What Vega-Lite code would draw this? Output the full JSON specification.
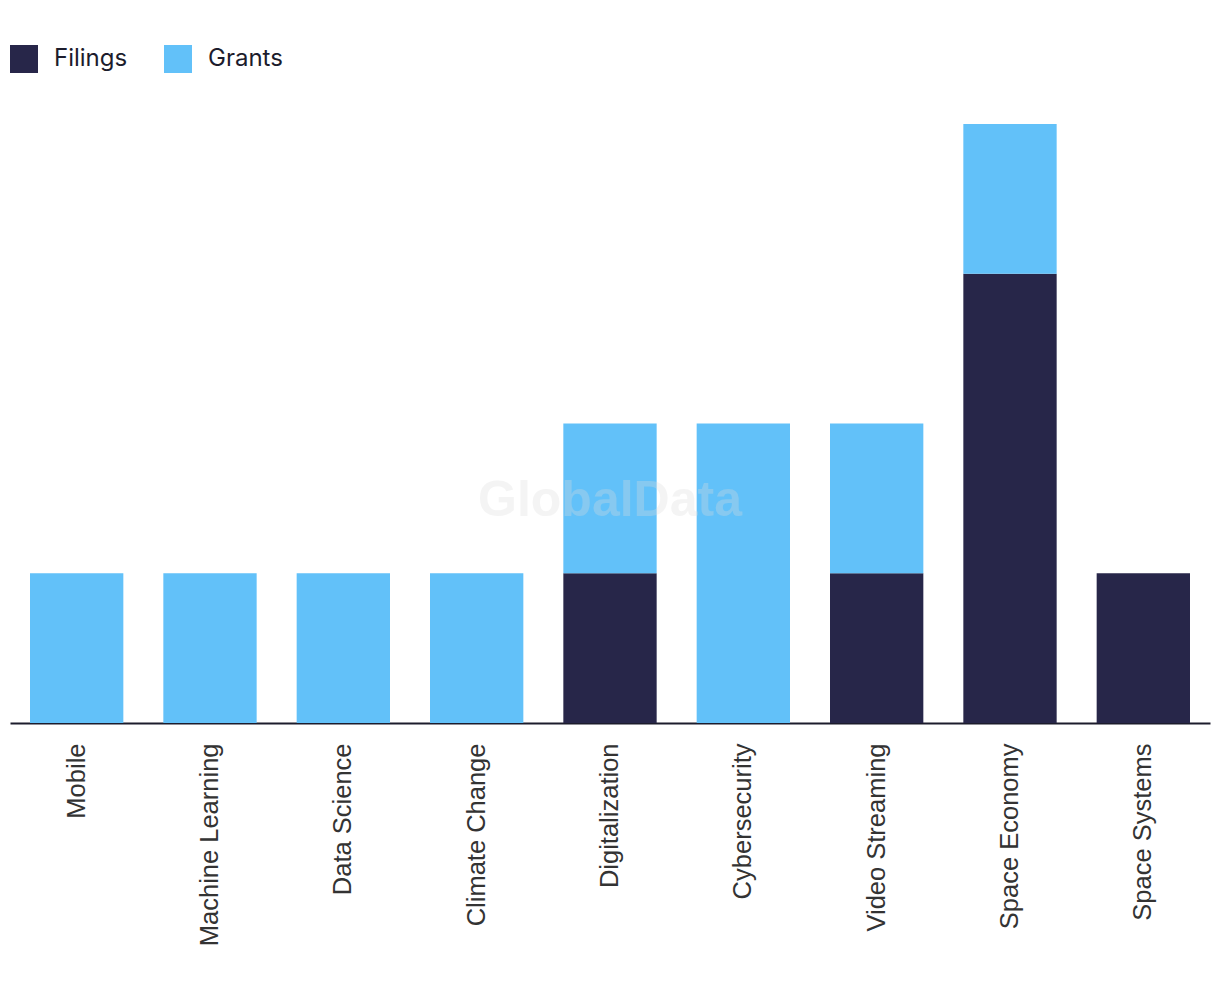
{
  "$schema": "https://vega.github.io/schema/vega-lite/v6.json",
  "width": 1200,
  "height": 599,
  "autosize": {"type": "none"},
  "padding": {"left": 10, "top": 124, "right": 10, "bottom": 275},
  "background": "white",
  "config": {"view": {"stroke": null}},
  "data": {"values": [
    {"topic": "Mobile", "type": "Filings", "count": 0},
    {"topic": "Mobile", "type": "Grants", "count": 1},
    {"topic": "Machine Learning", "type": "Filings", "count": 0},
    {"topic": "Machine Learning", "type": "Grants", "count": 1},
    {"topic": "Data Science", "type": "Filings", "count": 0},
    {"topic": "Data Science", "type": "Grants", "count": 1},
    {"topic": "Climate Change", "type": "Filings", "count": 0},
    {"topic": "Climate Change", "type": "Grants", "count": 1},
    {"topic": "Digitalization", "type": "Filings", "count": 1},
    {"topic": "Digitalization", "type": "Grants", "count": 1},
    {"topic": "Cybersecurity", "type": "Filings", "count": 0},
    {"topic": "Cybersecurity", "type": "Grants", "count": 2},
    {"topic": "Video Streaming", "type": "Filings", "count": 1},
    {"topic": "Video Streaming", "type": "Grants", "count": 1},
    {"topic": "Space Economy", "type": "Filings", "count": 3},
    {"topic": "Space Economy", "type": "Grants", "count": 1},
    {"topic": "Space Systems", "type": "Filings", "count": 1},
    {"topic": "Space Systems", "type": "Grants", "count": 0}
  ]},
  "layer": [
    {
      "mark": {"type": "bar"},
      "encoding": {
        "x": {
          "field": "topic", "type": "nominal", "sort": null,
          "scale": {"paddingInner": 0.3, "paddingOuter": 0.15},
          "axis": {
            "title": null, "labelAngle": -90, "labelAlign": "right", "labelBaseline": "middle",
            "labelFont": "Liberation Sans", "labelFontSize": 25.5, "labelColor": "#333333",
            "labelPadding": 20, "ticks": false, "domainColor": "#1c1c2c", "domainWidth": 2,
            "labelLimit": 400
          }
        },
        "y": {
          "field": "count", "type": "quantitative", "stack": "zero",
          "scale": {"domain": [0, 4], "nice": false},
          "axis": null
        },
        "color": {
          "field": "type", "type": "nominal",
          "scale": {"domain": ["Filings", "Grants"], "range": ["#272649", "#62c1f9"]},
          "legend": {
            "title": null, "orient": "none", "legendX": -14, "legendY": -79,
            "direction": "horizontal", "symbolType": "square", "symbolSize": 784,
            "symbolStrokeWidth": 0, "symbolOpacity": 1,
            "labelFont": "Inter", "labelFontSize": 24, "labelColor": "#1c1c2c",
            "labelOffset": 16, "columnPadding": 22, "symbolOffset": 14
          },
          "sort": ["Filings", "Grants"]
        },
        "order": {"field": "type", "sort": "ascending"}
      }
    },
    {
      "data": {"values": [{"label": "GlobalData"}]},
      "mark": {"type": "text", "font": "Liberation Sans", "fontWeight": "bold", "fontSize": 50, "fill": "#dcdcdc", "opacity": 0.3, "dy": 77, "align": "center", "baseline": "middle"},
      "encoding": {"text": {"field": "label"}}
    }
  ]
}
